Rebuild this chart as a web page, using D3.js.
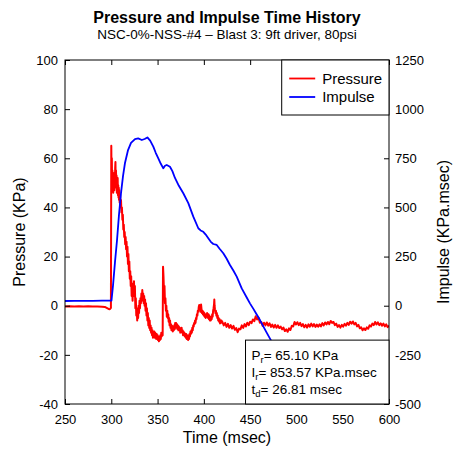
<!DOCTYPE html>
<html>
<head>
<meta charset="utf-8">
<script src="https://cdn.jsdelivr.net/npm/d3@7"></script>
<style>
body{margin:0;background:#fff;}
text{font-family:"Liberation Sans", Arial, Helvetica, sans-serif;fill:#000;}
</style>
</head>
<body>
<div class="chart-container"></div>
<script>
// Data
// time (msec) , pressure (KPa)
const pressurePts = [
  [250,-0.3],[255,-0.2],[260,-0.3],[265,-0.2],[270,-0.3],[275,-0.2],[280,-0.3],[285,-0.3],[290,-0.4],[293,-0.5],[295,-0.9],[297,-1.3],[298.5,-1.4],[299.6,-0.9],
  [300.0,65.1],[300.3,52],[300.6,60],[300.9,47],[301.2,55],[301.5,49],[301.8,53],[302.1,46],[302.4,51],[302.7,48],[303.0,54],[303.3,47],[303.6,52],[303.9,49],[304.2,56],[304.5,58.5],[304.8,50],[305.1,55],[305.4,48],[305.7,53],[306.0,46],[306.3,51],[306.6,47],[306.9,52],[307.2,45],[307.5,49],[307.8,44],[308.1,48],[308.4,43],[308.7,47],[309.0,42],[309.5,45],
  [310.0,40],[310.5,43],[311.0,38],[311.5,40],[312.0,35],[312.5,37],[313.0,31],[313.5,33],[314.0,28],[314.5,30],[315.0,25],[315.5,28],[316.0,23],[316.5,26],[317.0,20],[317.5,24],[318.0,17],[318.5,21],[319.0,14],[319.5,18],
  [320.0,11],[320.5,14],[321.0,8],[321.5,12],[322.0,4],[322.5,9],[323.0,2],[323.5,7],[324.0,5],[324.5,10],[325.0,4],[325.5,8],[326.0,-1],[326.5,3],[327.0,-4],[327.5,-1],[328.0,-6],[328.5,-2],[329.0,-5],[329.5,0],
  [330.0,-3],[330.5,2],[331.0,-1],[331.5,3],[332.0,1],[332.5,5],[333.0,2],[333.5,6.4],[334.0,3],[334.5,5],[335.0,1],[335.5,4],[336.0,0],[336.5,2.5],[337.0,-2],[337.5,1],[338.0,-4],[338.5,-1],[339.0,-6],[339.5,-3],
  [340.0,-8],[340.5,-5],[341.0,-9],[341.5,-6],[342.0,-10],[342.5,-8],[343.0,-11],[343.5,-9],[344.0,-12],[344.5,-10],[345.0,-13],[345.5,-11],[346.0,-12.5],[346.5,-10.5],[347.0,-13],[347.5,-11],[348.0,-12],[348.5,-13.5],[349.0,-11.5],[349.5,-13],
  [350.0,-12],[350.5,-14],[351.0,-12.5],[351.5,-14.5],[352.0,-13],[352.5,-14],[353.0,-12],[353.5,-13.5],[354.0,-11],[354.5,-12.5],[355.0,-11],[355.5,-12],[355.9,15.9],[356.4,12],[357.0,5],[357.5,8],[358.0,1],[358.5,3],[359.0,-2],[359.5,0],
  [360.0,-4.5],[360.5,-2],[361.0,-5],[361.5,-3.5],[362.0,-6.5],[362.5,-5],[363.0,-8],[363.5,-6],[364.0,-9],[364.5,-7.5],[365.0,-10],[365.5,-8],[366.0,-9.5],[366.5,-10.5],[367.0,-8.5],[367.5,-10],[368.0,-8],[368.5,-9.5],[369.0,-7],[369.5,-8.5],
  [370.0,-7],[370.5,-9],[371.0,-7.5],[371.5,-9.5],[372.0,-8],[372.5,-10],[373.0,-8.5],[373.5,-10],[374.0,-9],[374.5,-11],[375.0,-9.5],[375.5,-10.5],[376.0,-9],[376.5,-11],[377.0,-10],[377.5,-12],[378.0,-10.5],[378.5,-12],[379.0,-11],[379.5,-12.5],
  [380.0,-11.5],[380.5,-13],[381.0,-11.5],[381.5,-13.5],[382.0,-12],[382.5,-13],[383.0,-14],[383.5,-12],[384.0,-13.5],[384.5,-11.5],[385.0,-12.5],[385.5,-10.5],[386.0,-11.5],[386.5,-10],[387.0,-11],[387.5,-9],[388.0,-10],[388.5,-8],[389.0,-8.5],[389.5,-7],
  [390.0,-7.5],[390.5,-6],[391.0,-7],[391.5,-5],[392.0,-5.5],[392.5,-3.5],[393.0,-4],[393.5,-2],[394.0,-2.5],[394.5,-0.5],[395.0,0.3],[395.5,-1.5],[396.0,-0.5],[396.5,-2.5],[397.0,0.5],[397.5,-1.5],[398.0,-3],[398.5,-2],[399.0,-3.5],[399.5,-2.5],
  [400.0,-4],[400.5,-3],[401.0,-4.5],[401.5,-3.5],[402.0,-5],[402.5,-3.5],[403.0,-4.5],[403.5,-3],[404.0,-4],[404.5,-5],[405.0,-3.5],[405.5,-5.5],[406.0,-4],[406.5,-6],[407.0,-5],[407.5,-6],[408.0,-4.5],[408.5,-5.5],[409.0,-3.5],[409.5,-4.5],
  [410.0,-2],[410.5,-1],[411.0,0.5],[411.3,2.5],[411.6,0],[412.0,-1.5],[412.5,-3],[413.0,-2],[413.5,-4],[414.0,-3],[414.5,-5],[415.0,-4],[415.5,-6],[416.0,-5],[416.5,-6.5],[417.0,-5.5],[417.5,-7.2],[418.0,-6],[418.5,-7],[419.0,-6],
  [420.0,-6.6],[421.5,-8.0],[423.0,-7.0],[424.5,-8.6],[426.0,-7.4],[427.5,-9.0],[429.0,-7.9],[430.5,-9.3],[432.0,-8.2],[433.5,-9.8],[435.0,-9.1],[436.5,-10.8],[438.0,-9.3],[439.5,-9.6],
  [441.0,-8.0],[442.5,-9.0],[444.0,-7.5],[445.5,-8.4],[447.0,-6.9],[448.5,-7.9],[450.0,-6.5],[451.5,-7.1],[453.0,-5.6],[454.5,-6.3],[456.0,-4.3],[457.5,-5.6],[459.0,-4.8],
  [460.5,-6.9],[462.0,-6.6],[463.5,-8.2],[465.0,-6.9],[466.5,-8.0],[468.0,-6.8],[469.5,-8.1],[471.0,-7.2],[472.5,-8.6],[474.0,-7.7],[475.5,-8.9],[477.0,-7.8],[478.5,-9.0],
  [480.0,-8.0],[481.5,-9.1],[483.0,-8.5],[484.5,-9.6],[486.0,-8.9],[487.5,-10.3],[489.0,-9.6],[490.5,-10.6],[492.0,-9.2],[493.5,-9.9],[495.0,-8.2],[496.5,-8.4],[498.0,-6.6],[499.5,-7.6],
  [501.0,-6.7],[502.5,-7.9],[504.0,-7.0],[505.5,-8.3],[507.0,-7.5],[508.5,-8.8],[510.0,-7.8],[511.5,-8.9],[513.0,-7.6],[514.5,-8.5],[516.0,-7.3],[517.5,-8.4],[519.0,-7.5],
  [520.5,-8.6],[522.0,-7.7],[523.5,-8.5],[525.0,-7.6],[526.5,-8.4],[528.0,-7.1],[529.5,-8.0],[531.0,-6.8],[532.5,-7.6],[534.0,-6.6],[535.5,-7.5],[537.0,-6.2],[538.5,-7.0],
  [540.0,-6.6],[541.5,-7.9],[543.0,-7.3],[544.5,-8.6],[546.0,-7.9],[547.5,-8.9],[549.0,-7.8],[550.5,-8.5],[552.0,-7.4],[553.5,-8.1],[555.0,-7.0],[556.5,-7.8],[558.0,-6.5],[559.5,-7.3],
  [561.0,-6.4],[562.5,-7.6],[564.0,-7.0],[565.5,-8.4],[567.0,-7.8],[568.5,-9.2],[570.0,-8.8],[571.5,-10.0],[573.0,-9.2],[574.5,-9.9],[576.0,-8.8],[577.5,-9.4],[579.0,-8.0],
  [580.5,-8.5],[582.0,-7.3],[583.5,-7.9],[585.0,-6.6],[586.5,-7.6],[588.0,-6.8],[589.5,-7.9],[591.0,-7.2],[592.5,-8.1],[594.0,-7.3],[595.5,-8.4],[597.0,-7.6],[598.5,-8.7],[600.0,-8.1]
];

// time (msec) , impulse (KPa.msec)
const impulsePts = [
  [250,24],[260,24.5],[270,25],[280,25],[290,25.5],[299.5,25.5],[300.2,26],
  [301.9,105],[304.0,222],[306.2,334],[308.3,461],[310.5,573],[312.7,660],[314.8,726],[318.1,792],[321.3,828],[325.6,848],[329,851],[333,843],[336,848],[339,856],
  [342,840],[345.4,809],[348,778],[350.8,750],[353.5,722],[356.2,699],[358,712],[359.9,716],[363.4,707],[366,685],[368.8,650],[373,610],[377.8,572],[383.2,522],[388.6,453],
  [394,394],[396.5,383],[399.4,376],[402,362],[404.8,343],[407.5,325],[410.2,314],[413.9,309],[417,290],[421,267],[424.5,240],[428.2,207],[432,178],[435.5,148],[440.9,88],
  [446.3,42],[449.8,12],[453.5,-16],[457.1,-45],[460.6,-73],[464.2,-105],[468,-138],[472.2,-174],[480,-262],[488,-355],[496,-450]
];

const pressureTicks = [-40,-20,0,20,40,60,80,100];
const impulseTicks = [-500,-250,0,250,500,750,1000,1250];
const timeTicks = [250,300,350,400,450,500,550,600];

const seriesNames = ['Pressure','Impulse'];
const seriesColors = ['#ff0000','#0000ff'];

// P_r, I_r, t_d box
const summaryLabels = [
  {main:'P', sub:'r', rest:'= 65.10 KPa'},
  {main:'I', sub:'r', rest:'= 853.57 KPa.msec'},
  {main:'t', sub:'d', rest:'= 26.81 msec'}
];

// Canvas
const svg_width = 454;
const svg_height = 449;
const margin = {top:60, bottom:45, left:65, right:65};
const chart_width = svg_width - margin.left - margin.right;
const chart_height = svg_height - margin.top - margin.bottom;

const svg = d3.select('.chart-container').append('svg')
  .attr('width', svg_width).attr('height', svg_height);

const g = svg.append('g').attr('transform', `translate(${margin.left},${margin.top})`);

// Scales
const xScale = d3.scaleLinear().domain([250,600]).range([0, chart_width]);
const yScale = d3.scaleLinear().domain([-40,100]).range([chart_height, 0]);
const y2Scale = d3.scaleLinear().domain([-500,1250]).range([chart_height, 0]);

// clip to plot area
g.append('clipPath').attr('id','plot-clip')
  .append('rect').attr('width', chart_width).attr('height', chart_height);

const plot = g.append('g').attr('clip-path','url(#plot-clip)');

const pressureLine = d3.line().x(d => xScale(d[0])).y(d => yScale(d[1]));
const impulseLine = d3.line().x(d => xScale(d[0])).y(d => y2Scale(d[1]));

plot.append('path').datum(pressurePts)
  .attr('d', pressureLine)
  .attr('fill','none').attr('stroke', seriesColors[0]).attr('stroke-width', 2)
  .attr('stroke-linejoin','round');

plot.append('path').datum(impulsePts)
  .attr('d', impulseLine)
  .attr('fill','none').attr('stroke', seriesColors[1]).attr('stroke-width', 1.8)
  .attr('stroke-linejoin','round');

// Axes (ticks point inward)
const fmt = d => String(d);
const axisFont = '13px';

const xAxis = d3.axisBottom(xScale).tickValues(timeTicks).tickFormat(fmt)
  .tickSizeInner(-5).tickSizeOuter(0).tickPadding(11);
const xAxisTop = d3.axisTop(xScale).tickValues(timeTicks).tickFormat('')
  .tickSizeInner(-5).tickSizeOuter(0);
const yAxis = d3.axisLeft(yScale).tickValues(pressureTicks).tickFormat(fmt)
  .tickSizeInner(-5).tickSizeOuter(0).tickPadding(7);
const y2Axis = d3.axisRight(y2Scale).tickValues(impulseTicks).tickFormat(fmt)
  .tickSizeInner(-5).tickSizeOuter(0).tickPadding(6);

const axes = [
  g.append('g').attr('transform', `translate(0,${chart_height})`).call(xAxis),
  g.append('g').call(xAxisTop),
  g.append('g').call(yAxis),
  g.append('g').attr('transform', `translate(${chart_width},0)`).call(y2Axis)
];
axes.forEach(a => {
  a.select('.domain').remove();
  a.selectAll('line').attr('stroke','#000');
  a.selectAll('text').style('font-size', axisFont)
    .style('font-family','"Liberation Sans", Arial, sans-serif');
});

// frame
g.append('rect').attr('width', chart_width).attr('height', chart_height)
  .attr('fill','none').attr('stroke','#000').attr('stroke-width',1);

// Summary box (bottom right), covers the impulse line
const boxX = xScale(445);
const boxY = yScale(-14);
g.append('rect')
  .attr('x', boxX).attr('y', boxY)
  .attr('width', chart_width - boxX).attr('height', chart_height - boxY)
  .attr('fill','#fff').attr('stroke','#000').attr('stroke-width',1);

summaryLabels.forEach((s, i) => {
  const t = g.append('text')
    .attr('x', boxX + 6).attr('y', boxY + 19.5 + i * 17.3)
    .style('font-size','13.5px');
  t.append('tspan').text(s.main);
  t.append('tspan').text(s.sub).attr('dy', 3).style('font-size','9.5px');
  t.append('tspan').text(s.rest).attr('dy', -3);
});

// Legend (top right)
const legendX = 216.7;
const legend = g.append('g');
legend.append('rect')
  .attr('x', legendX).attr('y', 0)
  .attr('width', chart_width - legendX).attr('height', 55)
  .attr('fill','#fff').attr('stroke','#000').attr('stroke-width',1);
seriesNames.forEach((name, i) => {
  const ly = 18.5 + i * 18.5;
  legend.append('line')
    .attr('x1', legendX + 7.5).attr('x2', legendX + 33.5)
    .attr('y1', ly).attr('y2', ly)
    .attr('stroke', seriesColors[i]).attr('stroke-width', 1.8);
  legend.append('text').text(name)
    .attr('x', legendX + 40.5).attr('y', ly + 5.2)
    .style('font-size','15px');
});

// Titles
svg.append('text').text('Pressure and Impulse Time History')
  .attr('x', margin.left + chart_width / 2).attr('y', 22.5)
  .attr('text-anchor','middle')
  .style('font-size','16px').style('font-weight','bold');
svg.append('text').text('NSC-0%-NSS-#4 \u2013 Blast 3: 9ft driver, 80psi')
  .attr('x', margin.left + chart_width / 2).attr('y', 39)
  .attr('text-anchor','middle')
  .style('font-size','13.5px');

// Axis labels
svg.append('text').text('Time (msec)')
  .attr('x', margin.left + chart_width / 2).attr('y', 443)
  .attr('text-anchor','middle').style('font-size','16px');
svg.append('text').text('Pressure (KPa)')
  .attr('transform', `translate(25,${margin.top + chart_height / 2}) rotate(-90)`)
  .attr('text-anchor','middle').style('font-size','16px');
svg.append('text').text('Impulse (KPa.msec)')
  .attr('transform', `translate(449,${margin.top + chart_height / 2}) rotate(-90)`)
  .attr('text-anchor','middle').style('font-size','16px');
</script>
</body>
</html>
